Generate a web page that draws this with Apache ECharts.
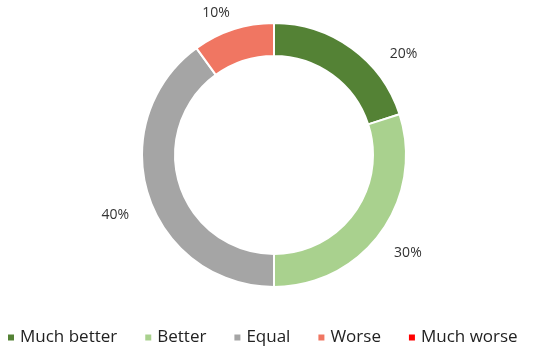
<!DOCTYPE html>
<html><head><meta charset="utf-8">
<script src="https://cdn.jsdelivr.net/npm/echarts@6/dist/echarts.min.js"></script>
<style>html,body{margin:0;padding:0;background:#fff;}#c{width:550px;height:361px;}</style>
</head><body><div id="c"></div>
<script>
const categories = ['Much better', 'Better', 'Equal', 'Worse', 'Much worse'];
const values = [20, 30, 40, 10, 0];
const colors = ['#548235', '#A9D18E', '#A5A5A5', '#F07662', '#FF0000'];
// small nudges of the outside labels (Excel-style placement)
const labelNudge = [[25, 17], [-3, 12], [-1, 15], [6, -3], [0, 0]];

const chart = echarts.init(document.getElementById('c'));
chart.setOption({
  animation: false,
  color: colors,
  legend: {
    top: 329,
    left: 6,
    padding: 0,
    itemWidth: 8, itemHeight: 8, itemGap: 26,
    icon: 'rect',
    textStyle: { fontFamily: 'Open Sans', fontSize: 17, color: '#222' },
    data: categories
  },
  series: [{
    type: 'pie',
    center: [274, 155],
    radius: [99, 132],
    startAngle: 90,
    clockwise: true,
    avoidLabelOverlap: false,
    itemStyle: { borderColor: '#fff', borderWidth: 2 },
    label: {
      position: 'outside',
      fontFamily: 'Open Sans', fontSize: 14, color: '#333',
      formatter: p => p.value ? p.value + '%' : ''
    },
    labelLine: { show: false, length: 14, length2: 0 },
    labelLayout: p => ({ dx: labelNudge[p.dataIndex][0], dy: labelNudge[p.dataIndex][1] }),
    data: categories.map((c, i) => ({ name: c, value: values[i] }))
  }]
});
</script></body></html>
